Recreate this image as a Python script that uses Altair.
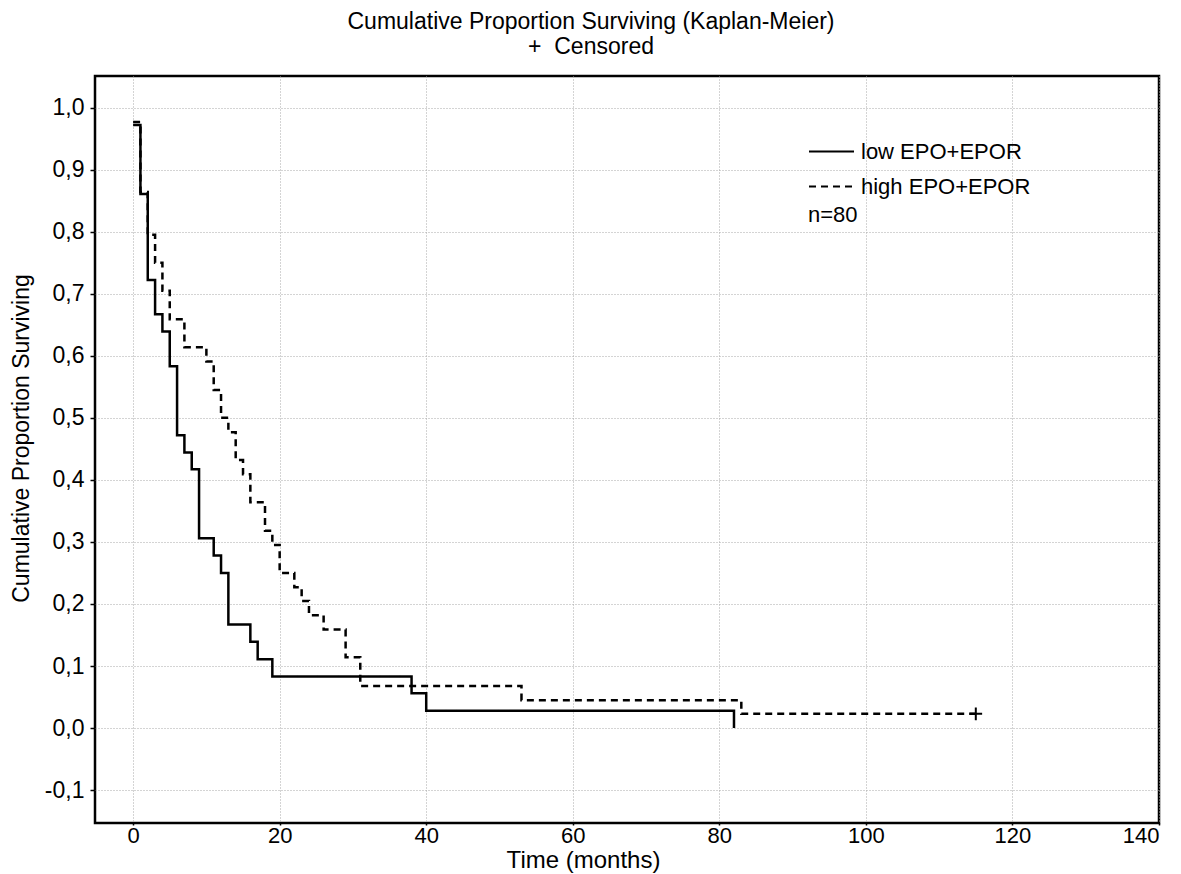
import altair as alt
import pandas as pd

# ---- data ----
low_label = "low EPO+EPOR"
high_label = "high EPO+EPOR"

low_times = [0, 1, 2, 3, 4, 5, 6, 7, 8, 9, 11, 12, 13, 16, 17, 19, 38, 40, 82]
low_surv = [0.972, 0.861, 0.722, 0.667, 0.639, 0.583, 0.472, 0.444, 0.417, 0.306,
            0.278, 0.25, 0.167, 0.139, 0.111, 0.083, 0.056, 0.028, 0.0]

high_times = [0, 1, 2, 3, 4, 5, 7, 10, 11, 12, 13, 14, 15, 16, 18, 19, 20, 22, 23,
              24, 26, 29, 31, 53, 83, 115]
high_surv = [0.977, 0.864, 0.795, 0.75, 0.705, 0.659, 0.614, 0.591, 0.545, 0.5,
             0.477, 0.432, 0.409, 0.364, 0.318, 0.295, 0.25, 0.227, 0.205, 0.182,
             0.159, 0.114, 0.068, 0.045, 0.023, 0.023]

censored_times = [115]
censored_surv = [0.023]
censored_group = [high_label]

x_ticks = [0, 20, 40, 60, 80, 100, 120, 140]
y_ticks = [-0.1, 0.0, 0.1, 0.2, 0.3, 0.4, 0.5, 0.6, 0.7, 0.8, 0.9, 1.0]

FONT = "Liberation Sans"

curves = pd.DataFrame(
    {
        "time": low_times + high_times,
        "surv": low_surv + high_surv,
        "group": [low_label] * len(low_times) + [high_label] * len(high_times),
    }
)
cens = pd.DataFrame({"time": censored_times, "surv": censored_surv, "group": censored_group})

xscale = alt.Scale(domain=[-5.2, 140], nice=False, zero=False)
yscale = alt.Scale(domain=[-0.153, 1.051], nice=False, zero=False)

x_axis = alt.Axis(
    values=x_ticks, title="Time (months)", grid=True, gridDash=[1, 2], gridColor="#a8a8a8",
    gridWidth=1, domain=False, tickColor="black", tickSize=2, tickWidth=1.5, labelPadding=0,
    labelFont=FONT, labelFontSize=22, labelColor="black", titleFont=FONT, titleFontSize=24,
    titleFontWeight="normal", titleColor="black", titleX=488, titleY=37,
    titleAlign="center", titleBaseline="middle", labelFlush=True,
)
y_axis = alt.Axis(
    values=y_ticks, title="Cumulative Proportion Surviving", grid=True, gridDash=[1, 2],
    gridColor="#a8a8a8", gridWidth=1, domain=False, tickColor="black", tickSize=5,
    tickWidth=1.5, labelPadding=6, labelFont=FONT, labelFontSize=23, labelColor="black",
    labelExpr="replace(replace(format(datum.value, '.1f'), '.', ','), '\u2212', '-')",
    titleFont=FONT, titleFontSize=23, titleFontWeight="normal", titleColor="black",
    titleX=-74, titleY=362, titleAngle=270, titleAlign="center", titleBaseline="middle",
    labelFlush=False,
)

lines = (
    alt.Chart(curves)
    .mark_line(interpolate="step-after", color="black", strokeWidth=2.5)
    .encode(
        x=alt.X("time:Q", scale=xscale, axis=x_axis),
        y=alt.Y("surv:Q", scale=yscale, axis=y_axis),
        strokeDash=alt.StrokeDash(
            "group:N",
            scale=alt.Scale(domain=[low_label, high_label], range=[[1, 0], [7, 5]]),
            legend=alt.Legend(
                title="n=80", titleOrient="bottom", titleAnchor="start", titleFont=FONT,
                titleFontSize=22, titleFontWeight="normal", titleColor="black",
                titlePadding=7,
                labelFont=FONT, labelFontSize=22, labelColor="black", labelOffset=6,
                labelLimit=400,
                symbolType="stroke", symbolSize=2025, symbolStrokeWidth=2,
                symbolStrokeColor="black", symbolDash=[5, 4], orient="none",
                legendX=713, legendY=52, rowPadding=0,
            ),
        ),
        detail="group:N",
    )
)

plus = (
    alt.Chart(cens)
    .mark_point(
        shape="M-1,0L1,0M0,-1L0,1", filled=False, color="black", size=160, strokeWidth=2,
        opacity=1,
    )
    .encode(x=alt.X("time:Q", scale=xscale), y=alt.Y("surv:Q", scale=yscale))
)

chart = (
    alt.layer(lines, plus)
    .properties(
        width=1064,
        height=747,
        autosize=alt.AutoSizeParams(type="none"),
        padding={"left": 87, "top": 68, "right": 14, "bottom": 52},
        title=alt.TitleParams(
            text=["Cumulative Proportion Surviving (Kaplan-Meier)", "+\u00a0\u00a0Censored"],
            font=FONT, fontSize=23, fontWeight="normal",
            color="black", anchor="middle", dx=-36, offset=17, lineHeight=25,
        ),
    )
    .configure_view(stroke="black", strokeWidth=2.5)
)

chart.save("out.html", embed_options={"renderer": "svg", "actions": False})
